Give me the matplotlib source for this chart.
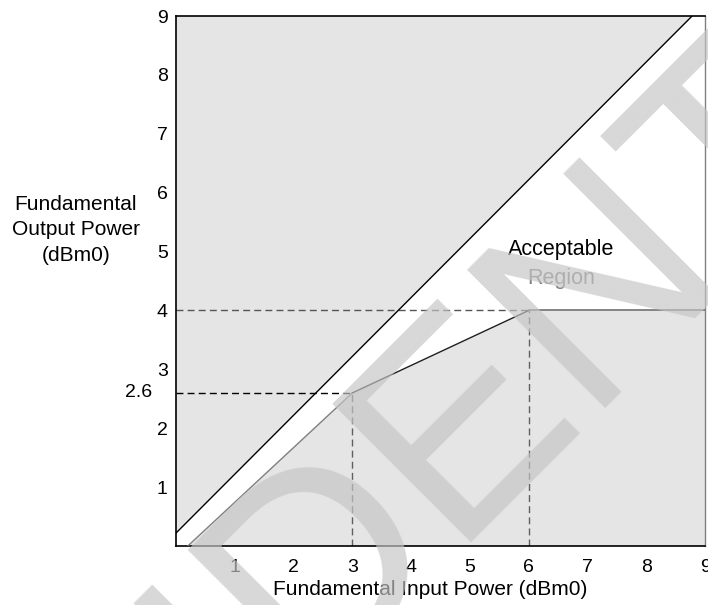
import numpy as np
import matplotlib.pyplot as plt

plt.rcParams['font.family'] = ['Liberation Sans', 'DejaVu Sans']

# axis ticks
x_ticks = [1, 2, 3, 4, 5, 6, 7, 8, 9]
y_ticks = [1, 2, 3, 4, 5, 6, 7, 8, 9]

# upper limit line: y = x + offset
upper_x = [0.0, 8.78]
upper_y = [0.22, 9.0]

# lower limit (piecewise)
lower_x = [0.2, 3.0, 6.0, 9.0]
lower_y = [0.0, 2.6, 4.0, 4.0]

# reference (dashed) points
ref_x = [3.0, 6.0]
ref_y = [2.6, 4.0]

fs = 14
fs_lab = 15

fig = plt.figure(figsize=(7.08, 6.05), dpi=100)
ax = fig.add_axes([0.2486, 0.0975, 0.7472, 0.876])
ax.set_xlim(0, 9)
ax.set_ylim(0, 9)
ax.set_facecolor('#e5e5e5')

# acceptable region (white)
poly_x = [0.0] + lower_x + [9.0, upper_x[1], upper_x[0]]
poly_y = [0.0] + lower_y + [9.0, upper_y[1], upper_y[0]]
ax.fill(poly_x, poly_y, color='white', lw=0, zorder=1)

ax.plot(upper_x, upper_y, color='black', lw=1.0, zorder=3)
ax.plot(lower_x[:2], lower_y[:2], color='#808080', lw=1.0, zorder=3)
ax.plot(lower_x[1:3], lower_y[1:3], color='#202020', lw=1.0, zorder=3)
ax.plot(lower_x[2:], lower_y[2:], color='#707070', lw=1.2, zorder=3)

# dashed guides
ax.plot([0, ref_x[0]], [ref_y[0], ref_y[0]], color='black', lw=1.0, ls=(0, (5, 3)), zorder=2)
ax.plot([ref_x[0], ref_x[0]], [0, ref_y[0]], color='#606060', lw=1.0, ls=(0, (5, 3)), zorder=2)
ax.plot([0, ref_x[1]], [ref_y[1], ref_y[1]], color='#555555', lw=1.0, ls=(0, (5, 3)), zorder=2)
ax.plot([ref_x[1], ref_x[1]], [0, ref_y[1]], color='#606060', lw=1.0, ls=(0, (5, 3)), zorder=2)

ax.set_xticks(x_ticks)
ax.set_yticks(y_ticks)
ax.tick_params(length=0, labelsize=fs)
ax.tick_params(axis='x', pad=9)
ax.tick_params(axis='y', pad=6)
ax.text(-0.4, ref_y[0], '2.6', ha='right', va='center', fontsize=fs)

for s in ['left', 'bottom', 'top']:
    ax.spines[s].set_color('black')
    ax.spines[s].set_linewidth(1.2)
ax.spines['right'].set_color('#808080')
ax.spines['right'].set_linewidth(1.0)

ax.text(6.55, 5.03, 'Acceptable', ha='center', va='center', fontsize=15.5, color='black', zorder=4)
ax.text(6.55, 4.55, 'Region', ha='center', va='center', fontsize=15.5, color='#808080', zorder=4)

fig.text(0.107, 0.62, 'Fundamental\nOutput Power\n(dBm0)', ha='center', va='center',
         fontsize=fs_lab, linespacing=1.45)
fig.text(0.608, 0.025, 'Fundamental Input Power (dBm0)', ha='center', va='center', fontsize=fs_lab)

# watermark
fig.text(0.517, 0.124, 'CONFIDENTIAL', rotation=45, ha='center', va='center',
         fontsize=205, color='#c5c5c5', alpha=0.68, zorder=10, rotation_mode='anchor')

fig.savefig('out.png', dpi=100)
